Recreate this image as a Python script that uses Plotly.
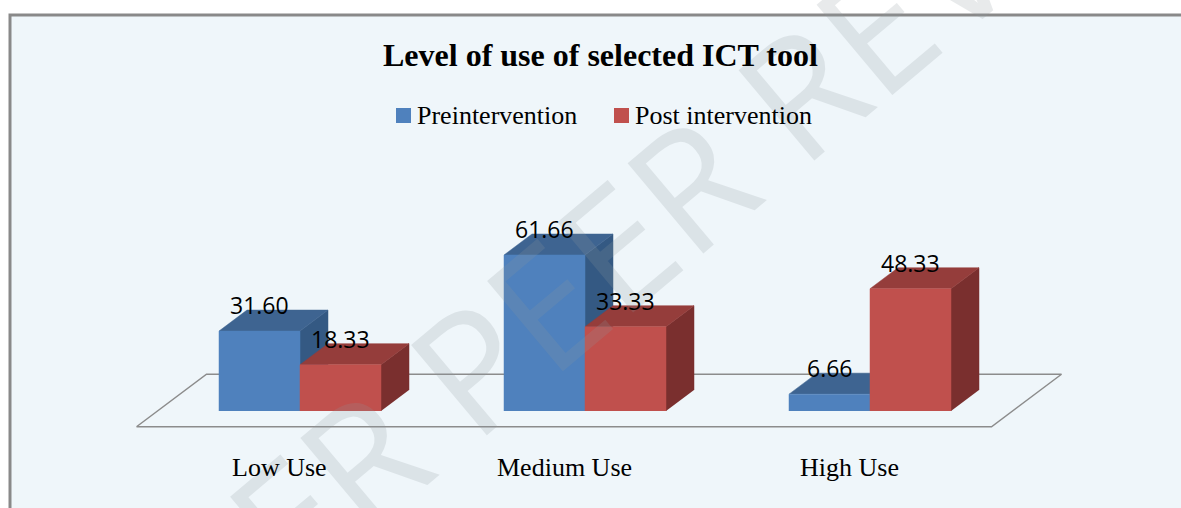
import plotly.graph_objects as go

# Chart data
categories = ["Low Use", "Medium Use", "High Use"]
series_names = ["Preintervention", "Post intervention"]
pre_values = [31.60, 61.66, 6.66]
post_values = [18.33, 33.33, 48.33]

# Styling
BG = "#EFF6FA"
FRAME = "#898989"
BLUE = dict(front="#4F81BD", top="#3E6491", side="#345983")
RED = dict(front="#C0504D", top="#953D3B", side="#7A2F2E")
SERIF = "Liberation Serif, Times New Roman, serif"
SANS = "Open Sans, Noto Sans, sans-serif"

W_PX, H_PX = 1181, 508
# category spacing 285 px, 2.53 px per value unit, category 0 at px 300, value 0 at px 411
X_RANGE = [-300 / 285, (W_PX - 300) / 285]
Y_RANGE = [(411 - H_PX) / 2.53, 411 / 2.53]
BAR_W = 81 / 285
DX, DY = 28 / 285, 21 / 2.53   # pseudo-3D depth offset


def prism_faces(x_lefts, values):
    """Front, top and side polygons for a row of 3D-looking bars."""
    front, top, side = [], [], []
    for x0, v in zip(x_lefts, values):
        x1 = x0 + BAR_W
        front += [(x0, 0), (x0, v), (x1, v), (x1, 0), (None, None)]
        top += [(x0, v), (x0 + DX, v + DY), (x1 + DX, v + DY), (x1, v), (None, None)]
        side += [(x1, 0), (x1, v), (x1 + DX, v + DY), (x1 + DX, DY), (None, None)]
    return front, top, side


def poly_trace(pts, color):
    return go.Scatter(x=[p[0] for p in pts], y=[p[1] for p in pts], mode="lines",
                      fill="toself", fillcolor=color, line=dict(color=color, width=0.5),
                      hoverinfo="skip", showlegend=False)


fig = go.Figure()

# floor of the 3D plot area
n = len(categories)
fx = [-0.5 - 0.75 * DX, n - 0.5 - 0.75 * DX, n - 0.5 + 1.75 * DX, -0.5 + 1.75 * DX]
fy = [-0.75 * DY, -0.75 * DY, 1.75 * DY, 1.75 * DY]
fig.add_trace(go.Scatter(x=fx + fx[:1], y=fy + fy[:1], mode="lines",
                         line=dict(color="#8C8C8C", width=1.5), hoverinfo="skip", showlegend=False))

pos = list(range(n))
for values, col, shift in [(pre_values, BLUE, -BAR_W), (post_values, RED, 0.0)]:
    front, top, side = prism_faces([p + shift for p in pos], values)
    fig.add_trace(poly_trace(side, col["side"]))
    fig.add_trace(poly_trace(top, col["top"]))
    fig.add_trace(poly_trace(front, col["front"]))

annotations = []
# faint watermark
annotations.append(dict(text="UNDER PEER REVIEW", xref="paper", yref="paper", x=590 / W_PX, y=1 - 265 / H_PX,
                        showarrow=False, textangle=-40, opacity=0.2,
                        font=dict(family="Open Sans", size=165, color="#8E999E")))

# value labels
for values, shift in [(pre_values, -BAR_W / 2), (post_values, BAR_W / 2)]:
    for p, v in zip(pos, values):
        annotations.append(dict(text=f"{v:.2f}", x=p + shift, y=v + 10.3, showarrow=False,
                                xanchor="center", yanchor="middle",
                                font=dict(family=SANS, size=23, color="black")))

# category labels
for p, c in zip(pos, categories):
    annotations.append(dict(text=c, x=p - 0.75 * DX, y=-22.5, showarrow=False,
                            xanchor="center", yanchor="middle",
                            font=dict(family=SERIF, size=26, color="black")))

# title
annotations.append(dict(text="<b>Level of use of selected ICT tool</b>", xref="paper", yref="paper",
                        x=600 / W_PX, y=1 - 55 / H_PX, showarrow=False, yanchor="middle",
                        font=dict(family=SERIF, size=32, color="black")))

# legend
shapes = [dict(type="rect", xref="paper", yref="paper", x0=10 / W_PX, x1=1.02, y0=-0.05,
               y1=1 - 15 / H_PX, fillcolor=BG, line=dict(color=FRAME, width=3), layer="below")]
for name, col, sx in [(series_names[0], BLUE, 396), (series_names[1], RED, 614)]:
    shapes.append(dict(type="rect", xref="paper", yref="paper", x0=sx / W_PX, x1=(sx + 15) / W_PX,
                       y0=1 - 123 / H_PX, y1=1 - 108 / H_PX, fillcolor=col["front"], line_width=0))
    annotations.append(dict(text=name, xref="paper", yref="paper", x=(sx + 19) / W_PX, y=1 - 115 / H_PX,
                            showarrow=False, xanchor="left", yanchor="middle",
                            font=dict(family=SERIF, size=26, color="black")))

fig.update_layout(
    width=W_PX, height=H_PX, margin=dict(l=0, r=0, t=0, b=0),
    paper_bgcolor="white", plot_bgcolor="white", showlegend=False,
    xaxis=dict(range=X_RANGE, visible=False, fixedrange=True),
    yaxis=dict(range=Y_RANGE, visible=False, fixedrange=True),
    annotations=annotations, shapes=shapes,
)

fig.write_html("out.html", config={"displayModeBar": False},
               post_script="document.body.style.margin='0';document.body.style.overflow='hidden';")
